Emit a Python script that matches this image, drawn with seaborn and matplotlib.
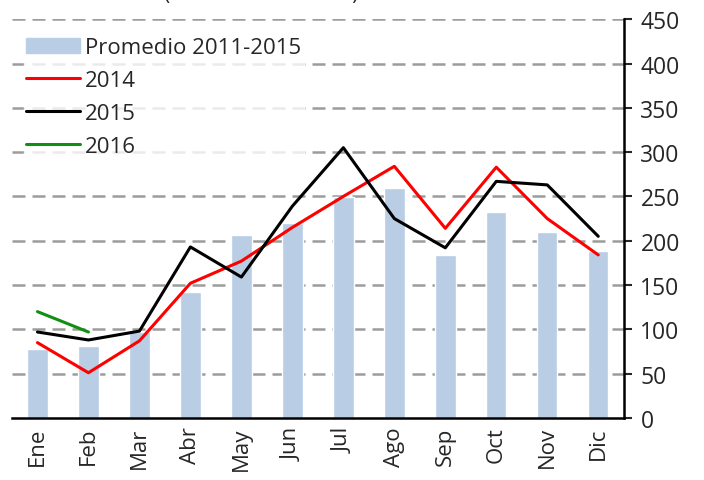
import numpy as np
import pandas as pd
import matplotlib
matplotlib.use("Agg")
import matplotlib.pyplot as plt
import seaborn as sns
from matplotlib.patches import Patch
from matplotlib.lines import Line2D

# datos
meses = ["Ene", "Feb", "Mar", "Abr", "May", "Jun", "Jul", "Ago", "Sep", "Oct", "Nov", "Dic"]
promedio = [78, 81, 97, 142, 206, 220, 249, 260, 184, 232, 210, 188]
serie_2014 = [85, 51, 87, 152, 177, 215, 250, 284, 214, 283, 225, 184]
serie_2015 = [97, 88, 98, 193, 159, 239, 305, 225, 192, 267, 263, 205]
serie_2016 = [120, 97]

sns.set_style("white")
plt.rcParams['font.family'] = ['Open Sans', 'DejaVu Sans']

fig = plt.figure(figsize=(7.04, 4.81), dpi=100)
ax = fig.add_axes([0.017, 0.129, 0.869, 0.829])

df = pd.DataFrame({"mes": meses, "valor": promedio})
sns.barplot(data=df, x="mes", y="valor", order=meses, color="#B9CDE5",
            width=0.4, saturation=1, ax=ax, zorder=2)

x = np.arange(len(meses))
ax.plot(x, serie_2014, color="#FF0000", lw=2.2, zorder=3)
ax.plot(x, serie_2015, color="black", lw=2.2, zorder=3)
ax.plot(x[:len(serie_2016)], serie_2016, color="#109010", lw=2.2, zorder=3)

ax.set_xlim(-0.5, 11.5)
ax.set_ylim(0, 450)
ax.set_xlabel("")
ax.set_ylabel("")

# rejilla
for v in range(50, 451, 50):
    ax.axhline(v, color="#9c9c9c", lw=1.8, dashes=(5.2, 2.8), zorder=1)

# eje y a la derecha
ax.yaxis.tick_right()
ax.set_yticks(range(0, 451, 50))
ax.tick_params(axis="y", labelsize=16.5, length=6, width=1.5, direction="out", pad=6)

# eje x: marcas entre categorias
ax.set_xticks(np.arange(-0.5, 12, 1))
ax.set_xticklabels([])
ax.set_xticks(x, minor=True)
ax.set_xticklabels(meses, minor=True, rotation=90, fontsize=16)
ax.tick_params(axis="x", which="major", length=8, width=1.5, direction="out")
ax.tick_params(axis="x", which="minor", length=0, pad=6)

for s in ["top", "left"]:
    ax.spines[s].set_visible(False)
for s in ["bottom", "right"]:
    ax.spines[s].set_linewidth(1.8)
    ax.spines[s].set_color("black")

handles = [
    Patch(color="#B9CDE5", label="Promedio 2011-2015"),
    Line2D([], [], color="#FF0000", lw=2.2, label="2014"),
    Line2D([], [], color="black", lw=2.2, label="2015"),
    Line2D([], [], color="#109010", lw=2.2, label="2016"),
]
leg = ax.legend(handles=handles, loc="upper left", bbox_to_anchor=(0.02, 0.96),
                frameon=True, fontsize=16, handlelength=2.4, handletextpad=0.25,
                labelspacing=0.53, borderaxespad=0, borderpad=0.1)
leg.get_frame().set_facecolor("white")
leg.get_frame().set_edgecolor("white")
leg.set_zorder(5)

# titulo cortado en el borde superior, como en el original
fig.text(0.371, 1.0, "(Miles de toneladas)", ha="center", va="baseline", fontsize=15)

plt.savefig("out.png", dpi=100)
